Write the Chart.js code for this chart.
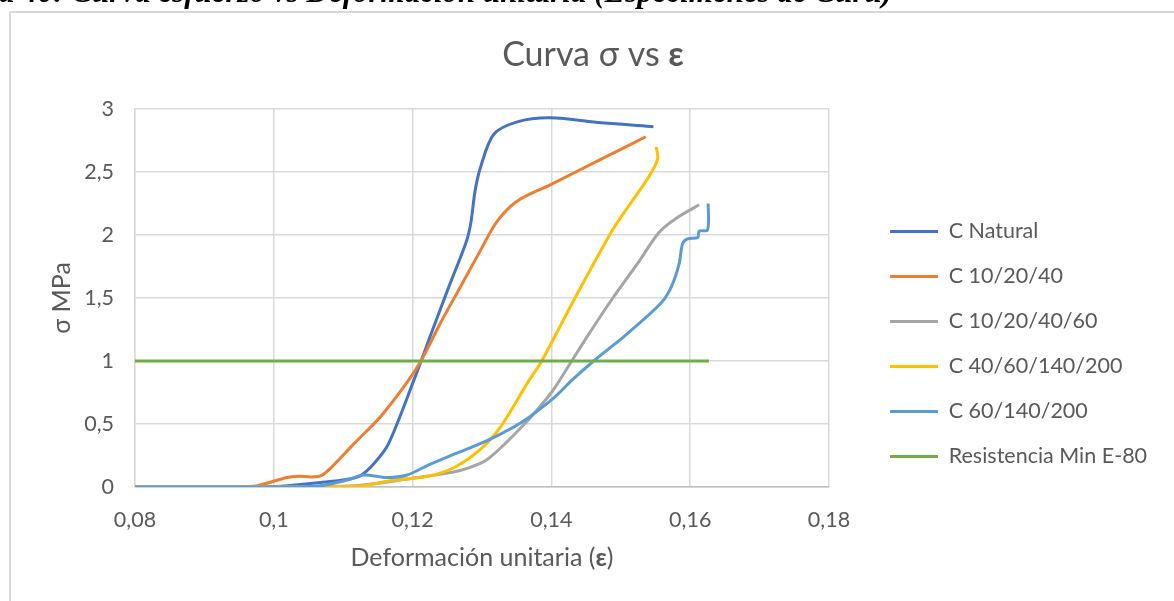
<!DOCTYPE html>
<html lang="es">
<head>
<meta charset="utf-8">
<title>Curva σ vs ε</title>
<script src="https://cdn.jsdelivr.net/npm/chart.js@4.4.1/dist/chart.umd.min.js"></script>
<style>
  html, body { margin: 0; padding: 0; background: #ffffff; }
  body { width: 1174px; height: 601px; position: relative; overflow: hidden; }
  #caption {
    position: absolute; left: -75px; top: -24px; white-space: nowrap;
    font: italic bold 31px/31px "Liberation Serif", "Times New Roman", serif; color: #000;
    z-index: 2;
  }
  #frame {
    position: absolute; left: 9px; top: 11px; width: 1200px; height: 620px;
    border-left: 2px solid #d9d9d9; border-top: 2px solid #d9d9d9; box-sizing: border-box;
  }
  #wrap { position: absolute; left: 0; top: 0; width: 1174px; height: 601px; }
</style>
</head>
<body>
<div id="caption">Figura 40: Curva esfuerzo vs Deformación unitaria (Especímenes de Curu)</div>
<div id="frame"></div>
<div id="wrap"><canvas id="chart"></canvas></div>
<script>
// Strain (ε) and stress (σ, MPa) per specimen
const epsNatural = [0.08, 0.095, 0.100, 0.102, 0.1067, 0.1105, 0.1125, 0.1145, 0.1165, 0.1202, 0.1229, 0.1253, 0.1277, 0.1284, 0.1290, 0.1298, 0.1317, 0.1352, 0.1399, 0.1472, 0.1547];
const sigNatural = [0, 0, 0.004, 0.01, 0.035, 0.06, 0.09, 0.19, 0.34, 0.85, 1.25, 1.6, 1.94, 2.1, 2.35, 2.54, 2.8, 2.9, 2.93, 2.89, 2.86];

const eps102040 = [0.08, 0.095, 0.0976, 0.1019, 0.1035, 0.1055, 0.1068, 0.1082, 0.1115, 0.1154, 0.1192, 0.1212, 0.1240, 0.1269, 0.1298, 0.1322, 0.1351, 0.1399, 0.1471, 0.1536];
const sig102040 = [0, 0, 0.01, 0.075, 0.085, 0.08, 0.09, 0.15, 0.34, 0.56, 0.83, 1.0, 1.3, 1.59, 1.88, 2.11, 2.27, 2.4, 2.6, 2.78];

const eps10204060 = [0.08, 0.100, 0.110, 0.115, 0.120, 0.125, 0.1280, 0.1308, 0.1356, 0.1400, 0.1427, 0.1450, 0.1486, 0.1525, 0.1555, 0.1582, 0.1613];
const sig10204060 = [0, 0, 0.005, 0.03, 0.07, 0.11, 0.15, 0.22, 0.47, 0.75, 0.98, 1.18, 1.48, 1.78, 2.02, 2.14, 2.24];

const eps4060140200 = [0.08, 0.100, 0.1067, 0.1129, 0.1173, 0.1222, 0.1260, 0.1298, 0.1327, 0.1366, 0.1385, 0.1434, 0.1486, 0.1510, 0.1539, 0.1553, 0.1551];
const sig4060140200 = [0, 0, 0.003, 0.012, 0.055, 0.085, 0.155, 0.3, 0.48, 0.83, 0.99, 1.5, 2.02, 2.22, 2.45, 2.6, 2.7];

const eps60140200 = [0.08, 0.100, 0.1067, 0.1106, 0.1129, 0.1163, 0.1192, 0.1221, 0.1260, 0.1308, 0.1356, 0.1404, 0.1430, 0.1461, 0.1510, 0.1558, 0.1573, 0.1584, 0.1589, 0.1596, 0.1611, 0.1613, 0.1625, 0.1626];
const sig60140200 = [0, 0, 0.01, 0.055, 0.095, 0.075, 0.095, 0.17, 0.26, 0.37, 0.51, 0.71, 0.85, 1.0, 1.22, 1.46, 1.59, 1.77, 1.93, 1.97, 1.98, 2.03, 2.04, 2.25];

const epsMinE80 = [0.08, 0.1627];
const sigMinE80 = [1, 1];

const seriesNames = ['C Natural', 'C 10/20/40', 'C 10/20/40/60', 'C 40/60/140/200', 'C 60/140/200', 'Resistencia Min E-80'];
const seriesColors = ['#4472C4', '#ED7D31', '#A5A5A5', '#FFC000', '#5B9BD5', '#70AD47'];

const xTicks = [0.08, 0.10, 0.12, 0.14, 0.16, 0.18];
const yTicks = [0, 0.5, 1, 1.5, 2, 2.5, 3];

const FONT = 'Lato, "Open Sans", sans-serif';
const TEXT_COLOR = '#595959';

const xs = [epsNatural, eps102040, eps10204060, eps4060140200, eps60140200, epsMinE80];
const ys = [sigNatural, sig102040, sig10204060, sig4060140200, sig60140200, sigMinE80];

const datasets = seriesNames.map((name, i) => ({
  label: name,
  data: xs[i].map((x, k) => ({ x: x, y: ys[i][k] })),
  borderColor: seriesColors[i],
  backgroundColor: seriesColors[i],
  borderWidth: 3,
  pointRadius: 0,
  pointHoverRadius: 0,
  showLine: true,
  tension: 0.3,
  order: seriesNames.length - i
}));

const fmt = v => String(Number(v.toFixed(2))).replace('.', ',');

// Geometry of the plot box and the legend column
const AREA = { left: 135, right: 829, top: 109, bottom: 487 };
const LEGEND = { x: 890, firstRowY: 231.5, fontSize: 21.5, gap: 23.5 };

// Text made of runs that switch between regular and bold weight
function drawRuns(ctx, runs, cx, cy, size, color) {
  ctx.save();
  ctx.fillStyle = color;
  ctx.textBaseline = 'middle';
  ctx.textAlign = 'left';
  let total = 0;
  const widths = runs.map(([t, w]) => { ctx.font = w + ' ' + size + 'px ' + FONT; const m = ctx.measureText(t).width; total += m; return m; });
  let x = cx - total / 2;
  runs.forEach(([t, w], i) => { ctx.font = w + ' ' + size + 'px ' + FONT; ctx.fillText(t, x, cy); x += widths[i]; });
  ctx.restore();
}

const titles = {
  id: 'titles',
  afterDraw(chart) {
    const ctx = chart.ctx;
    const a = chart.chartArea;
    drawRuns(ctx, [['Curva σ vs ', 'normal'], ['ε', 'bold']], 593, 55, 34, TEXT_COLOR);
    drawRuns(ctx, [['Deformación unitaria (', 'normal'], ['ε', 'bold'], [')', 'normal']], (a.left + a.right) / 2, 558, 25, TEXT_COLOR);
    ctx.save();
    ctx.translate(62, (a.top + a.bottom) / 2);
    ctx.rotate(-Math.PI / 2);
    drawRuns(ctx, [['σ MPa', 'normal']], 0, 0, 25, TEXT_COLOR);
    ctx.restore();
  }
};

// Fixed legend column to the right of the plot
const legendPlacement = {
  id: 'legendPlacement',
  beforeLayout(chart) {
    const lg = chart.legend;
    if (lg && !lg.__fixedWidth) {
      const fit = lg.fit;
      lg.fit = function () { fit.call(this); this.width = 1174 - AREA.right; };
      lg.__fixedWidth = true;
    }
  },
  afterLayout(chart) {
    const lg = chart.legend;
    if (!lg) return;
    const w = lg.width;
    lg.left = LEGEND.x - LEGEND.gap;
    lg.right = lg.left + w;
    const y0 = LEGEND.firstRowY - LEGEND.fontSize / 2;
    const colH = seriesNames.length * (LEGEND.fontSize + LEGEND.gap);
    lg.top = y0 - LEGEND.gap;
    lg.bottom = y0 + colH;
  }
};

new Chart(document.getElementById('chart'), {
  type: 'scatter',
  data: { datasets },
  options: {
    responsive: true,
    maintainAspectRatio: false,
    animation: false,
    events: [],
    layout: { padding: { left: 0, right: 0, top: AREA.top, bottom: 0 } },
    plugins: {
      title: { display: false },
      tooltip: { enabled: false },
      legend: {
        position: 'right',
        labels: {
          usePointStyle: true,
          pointStyle: 'line',
          pointStyleWidth: 48,
          padding: LEGEND.gap,
          color: TEXT_COLOR,
          font: { family: FONT, size: LEGEND.fontSize },
          sort: (a, b) => a.datasetIndex - b.datasetIndex
        }
      }
    },
    scales: {
      x: {
        type: 'linear',
        min: xTicks[0],
        max: xTicks[xTicks.length - 1],
        afterBuildTicks: s => { s.ticks = xTicks.map(v => ({ value: v })); },
        afterFit: s => { s.height = 601 - AREA.bottom; },
        ticks: { callback: v => fmt(v), color: TEXT_COLOR, font: { family: FONT, size: 21.5 }, padding: 20, maxRotation: 0 },
        grid: { color: '#d9d9d9', lineWidth: 1.5, drawTicks: false },
        border: { color: '#bfbfbf', width: 1.5 }
      },
      y: {
        type: 'linear',
        min: yTicks[0],
        max: yTicks[yTicks.length - 1],
        afterBuildTicks: s => { s.ticks = yTicks.map(v => ({ value: v })); },
        afterFit: s => { s.width = AREA.left; },
        ticks: { callback: v => fmt(v), color: TEXT_COLOR, font: { family: FONT, size: 21.5 }, padding: 21 },
        grid: { color: '#d9d9d9', lineWidth: 1.5, drawTicks: false },
        border: { color: '#d9d9d9', width: 1.5 }
      }
    }
  },
  plugins: [legendPlacement, titles]
});
</script>
</body>
</html>
